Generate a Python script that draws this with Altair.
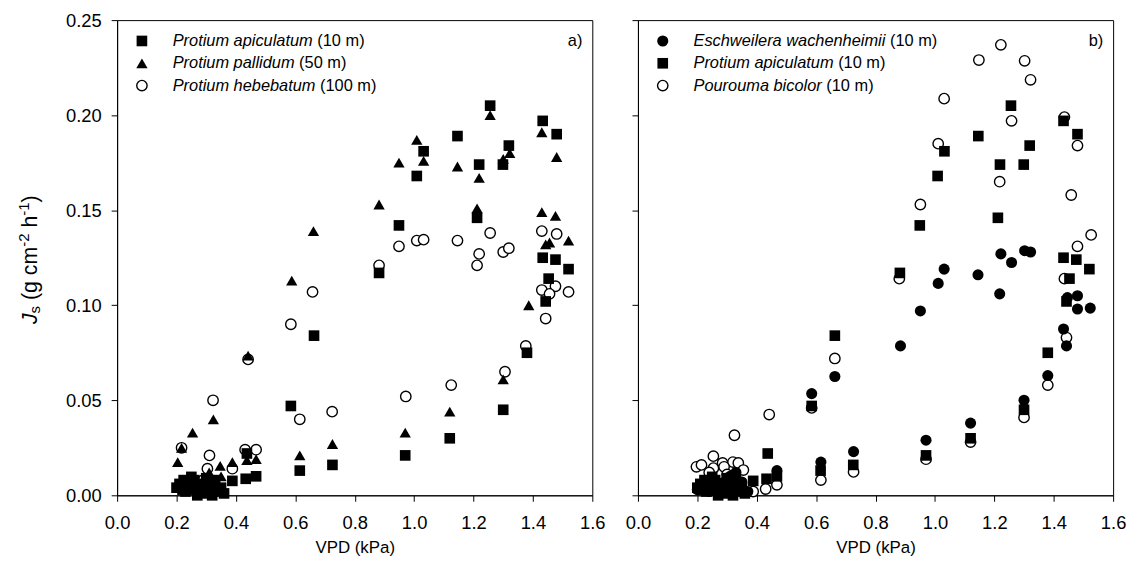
import altair as alt
import pandas as pd

FONT = "Liberation Sans"

# ---------------- data ----------------
# Protium apiculatum (10 m)  - squares, drawn in both panels
api_vpd = [1.256, 1.433, 1.48, 1.146, 1.032, 1.319, 1.219, 1.299, 1.009, 0.949,
           1.212, 0.882, 1.433, 1.476, 1.52, 1.453, 1.443, 0.663, 1.38, 0.585,
           1.30, 1.12, 0.97, 0.725, 0.615, 0.468, 0.433, 0.388, 0.437,
           0.20, 0.21, 0.22, 0.224, 0.23, 0.24, 0.25, 0.26, 0.27, 0.28, 0.29,
           0.30, 0.31, 0.32, 0.33, 0.34, 0.35, 0.36, 0.27, 0.32, 0.26, 0.30]
api_js = [0.205, 0.197, 0.190, 0.189, 0.181, 0.184, 0.174, 0.174, 0.168, 0.142,
          0.146, 0.117, 0.125, 0.124, 0.119, 0.114, 0.102, 0.084, 0.075, 0.047,
          0.045, 0.030, 0.021, 0.016, 0.013, 0.010, 0.0087, 0.0076, 0.022,
          0.004, 0.006, 0.003, 0.008, 0.002, 0.005, 0.0097, 0.003, 0.006, 0.002, 0.004,
          0.001, 0.006, 0.003, 0.008, 0.002, 0.004, 0.001, 0.000, 0.000, 0.008, 0.009]

# Protium pallidum (50 m) - triangles
pal_vpd = [1.256, 1.43, 1.009, 0.949, 1.032, 1.146, 1.219, 1.30, 1.322, 1.48,
           0.882, 1.212, 1.43, 1.476, 1.52, 1.443, 1.456, 1.386, 0.661, 0.588,
           0.441, 1.30, 1.12, 0.97, 0.725, 0.615, 0.324, 0.254, 0.204, 0.217,
           0.347, 0.388, 0.437, 0.468,
           0.23, 0.26, 0.28, 0.30, 0.33, 0.35, 0.31, 0.24]
pal_js = [0.200, 0.191, 0.187, 0.175, 0.176, 0.173, 0.167, 0.177, 0.180, 0.178,
          0.153, 0.151, 0.149, 0.147, 0.134, 0.132, 0.133, 0.100, 0.139, 0.113,
          0.0735, 0.061, 0.044, 0.033, 0.027, 0.021, 0.040, 0.033, 0.0175, 0.025,
          0.0155, 0.0175, 0.0185, 0.019,
          0.004, 0.006, 0.003, 0.007, 0.005, 0.010, 0.012, 0.008]

# Protium hebebatum (100 m) - open circles
heb_vpd = [0.882, 0.949, 1.009, 1.032, 1.146, 1.256, 1.219, 1.212, 1.30, 1.319,
           1.43, 1.48, 1.43, 1.476, 1.456, 1.52, 1.443, 1.376, 0.658, 0.585,
           0.441, 0.615, 0.724, 0.972, 1.125, 1.306, 0.323, 0.217, 0.311, 0.304,
           0.388, 0.431, 0.468,
           0.22, 0.27, 0.29, 0.32, 0.34]
heb_js = [0.121, 0.131, 0.134, 0.1345, 0.134, 0.138, 0.127, 0.121, 0.128, 0.130,
          0.139, 0.1375, 0.108, 0.110, 0.106, 0.107, 0.093, 0.0786, 0.107, 0.090,
          0.0715, 0.040, 0.044, 0.052, 0.058, 0.065, 0.050, 0.025, 0.021, 0.014,
          0.014, 0.024, 0.024,
          0.005, 0.004, 0.008, 0.006, 0.003]

# Eschweilera wachenheimii (10 m) - filled circles
esc_vpd = [1.222, 1.258, 1.302, 1.322, 1.031, 1.011, 1.145, 0.951, 1.218, 1.446,
           1.48, 1.48, 1.523, 1.433, 1.443, 0.884, 0.663, 0.585, 1.38, 1.30,
           1.12, 0.97, 0.726, 0.616, 0.468,
           0.20, 0.22, 0.24, 0.25, 0.27, 0.29, 0.30, 0.31, 0.32, 0.33, 0.34, 0.35, 0.37]
esc_js = [0.127, 0.1225, 0.1287, 0.128, 0.119, 0.1115, 0.116, 0.097, 0.106, 0.104,
          0.105, 0.098, 0.0985, 0.0875, 0.0786, 0.0786, 0.0625, 0.0535, 0.063, 0.050,
          0.038, 0.029, 0.023, 0.0175, 0.013,
          0.003, 0.006, 0.002, 0.008, 0.004, 0.007, 0.002, 0.010, 0.005, 0.012, 0.003, 0.007, 0.002]

# Pourouma bicolor (10 m) - open circles
pou_vpd = [1.222, 1.148, 1.302, 1.322, 1.031, 1.258, 1.436, 1.48, 1.011, 1.218,
           1.459, 0.951, 1.526, 1.48, 1.436, 1.443, 0.88, 0.663, 0.585, 0.442,
           0.325, 0.254, 1.38, 1.30, 1.12, 0.97, 0.726, 0.616, 0.43, 0.468, 0.388,
           0.197, 0.214, 0.254, 0.285, 0.32, 0.338, 0.355, 0.29, 0.24, 0.30]
pou_js = [0.237, 0.229, 0.2286, 0.2186, 0.2087, 0.197, 0.199, 0.184, 0.185, 0.165,
          0.158, 0.153, 0.137, 0.131, 0.114, 0.083, 0.114, 0.072, 0.046, 0.0425,
          0.0316, 0.0206, 0.058, 0.041, 0.028, 0.019, 0.0123, 0.008, 0.0033, 0.0055, 0.002,
          0.015, 0.016, 0.0143, 0.017, 0.0175, 0.017, 0.0133, 0.015, 0.012, 0.011]

x_ticks = [0.0, 0.2, 0.4, 0.6, 0.8, 1.0, 1.2, 1.4, 1.6]
y_ticks = [0.0, 0.05, 0.10, 0.15, 0.20, 0.25]

legend_a = [("Protium apiculatum", "(10 m)", "square"),
            ("Protium pallidum", "(50 m)", "triangle"),
            ("Protium hebebatum", "(100 m)", "open")]
legend_b = [("Eschweilera wachenheimii", "(10 m)", "dot"),
            ("Protium apiculatum", "(10 m)", "square"),
            ("Pourouma bicolor", "(10 m)", "open")]

# ---------------- styling ----------------
W = H = 479
TICK_FS = 18.5
LEG_FS = 16.5
TITLE_FS = 21.5
XTITLE_FS = 17

ARIAL = {' ': 278, '(': 333, ')': 333, '-': 333, 'a': 556, 'b': 556, 'c': 500,
         'd': 556, 'e': 556, 'f': 278, 'g': 556, 'h': 556, 'i': 222, 'j': 222,
         'k': 500, 'l': 222, 'm': 833, 'n': 556, 'o': 556, 'p': 556, 'r': 333,
         's': 500, 't': 278, 'u': 556, 'v': 500, 'w': 722, 'x': 500, 'y': 500,
         'E': 667, 'J': 500, 'P': 667}


def tw(s, size):
    return sum(ARIAL.get(c, 556) for c in s) * size / 1000.0


XS = alt.Scale(domain=[0, 1.6], nice=False, zero=False)
YS = alt.Scale(domain=[0, 0.25], nice=False, zero=False)

xaxis = alt.Axis(values=x_ticks, format=".1f", title="VPD (kPa)", tickSize=6,
                 labelFontSize=TICK_FS, labelFont=FONT, labelPadding=12,
                 labelFlush=False, labelOverlap=False, titleFont=FONT,
                 titleFontSize=XTITLE_FS, titleFontWeight="normal", titlePadding=8)


def yaxis(labels):
    return alt.Axis(values=y_ticks, format=".2f", title=None, tickSize=6,
                    labels=labels, labelFontSize=TICK_FS, labelFont=FONT,
                    labelPadding=10, labelOverlap=False, labelFlush=False)


STYLE = {
    "square": dict(shape="square", filled=True, color="black", size=115, opacity=1),
    "triangle": dict(shape="triangle-up", filled=True, color="black", size=130, opacity=1),
    "dot": dict(shape="circle", filled=True, color="black", size=125, opacity=1),
    "open": dict(shape="circle", filled=True, fill="white", stroke="black",
                 strokeWidth=1.4, size=110, opacity=1),
}


def scatter(v, j, kind, labels):
    df = pd.DataFrame({"vpd": v, "js": j})
    return alt.Chart(df).mark_point(**STYLE[kind]).encode(
        x=alt.X("vpd:Q", scale=XS, axis=xaxis),
        y=alt.Y("js:Q", scale=YS, axis=yaxis(labels)),
    )


def legend_layers(entries):
    layers = []
    for i, (name, suffix, kind) in enumerate(entries):
        yy = 21 + i * 22.5
        one = pd.DataFrame({"name": [name], "suffix": [suffix]})
        base = alt.Chart(one)
        layers.append(base.mark_point(**STYLE[kind]).encode(
            x=alt.value(25), y=alt.value(yy)))
        layers.append(base.mark_text(font=FONT, fontSize=LEG_FS, fontStyle="italic",
                                     align="left", baseline="middle", color="black").encode(
            x=alt.value(56), y=alt.value(yy), text="name:N"))
        layers.append(base.mark_text(font=FONT, fontSize=LEG_FS, align="left",
                                     baseline="middle", color="black").encode(
            x=alt.value(56 + tw(name + " ", LEG_FS)), y=alt.value(yy), text="suffix:N"))
    return layers


def panel_label(txt):
    return alt.Chart(pd.DataFrame({"t": [txt]})).mark_text(
        font=FONT, fontSize=LEG_FS, align="right", baseline="middle", color="black"
    ).encode(x=alt.value(W - 10), y=alt.value(21), text="t:N")


def ytitle_layers():
    f = TITLE_FS
    s = 0.7 * f
    sp = tw(" ", f)
    # (text, size, style, baseline shift, gap after)
    segs = [("J", f, "italic", 0, 0), ("s", s, "normal", 0.17 * f, sp),
            ("(g cm", f, "normal", 0, 0), ("-2", s, "normal", -0.36 * f, sp),
            ("h", f, "normal", 0, 0), ("-1", s, "normal", -0.36 * f, 0),
            (")", f, "normal", 0, 0)]
    total = sum(tw(t, size) + g for t, size, _, _, g in segs)
    y0 = 241.5 + total / 2.0
    x0 = -81
    layers = []
    off = 0.0
    for t, size, style, shift, gap in segs:
        layers.append(alt.Chart(pd.DataFrame({"t": [t]})).mark_text(
            font=FONT, fontSize=size, fontStyle=style, angle=270, align="left",
            baseline="alphabetic", color="black"
        ).encode(x=alt.value(x0 + shift), y=alt.value(y0 - off), text="t:N"))
        off += tw(t, size) + gap
    return layers


left = alt.layer(
    scatter(heb_vpd, heb_js, "open", True),
    scatter(api_vpd, api_js, "square", True),
    scatter(pal_vpd, pal_js, "triangle", True),
    *legend_layers(legend_a),
    panel_label("a)"),
    *ytitle_layers(),
).properties(width=W, height=H)

right = alt.layer(
    scatter(pou_vpd, pou_js, "open", False),
    scatter(api_vpd, api_js, "square", False),
    scatter(esc_vpd, esc_js, "dot", False),
    *legend_layers(legend_b),
    panel_label("b)"),
).properties(width=W, height=H)

chart = alt.hconcat(left, right, spacing=46, bounds="flush").properties(
    padding={"left": 8, "top": 0, "right": 2, "bottom": 4}
).configure_view(stroke="black", strokeWidth=1).configure_axis(
    domainColor="black", tickColor="black", labelColor="black", titleColor="black",
    grid=False, domainWidth=1, tickWidth=1
)

chart.save("out.html", embed_options={"renderer": "svg", "actions": False})
